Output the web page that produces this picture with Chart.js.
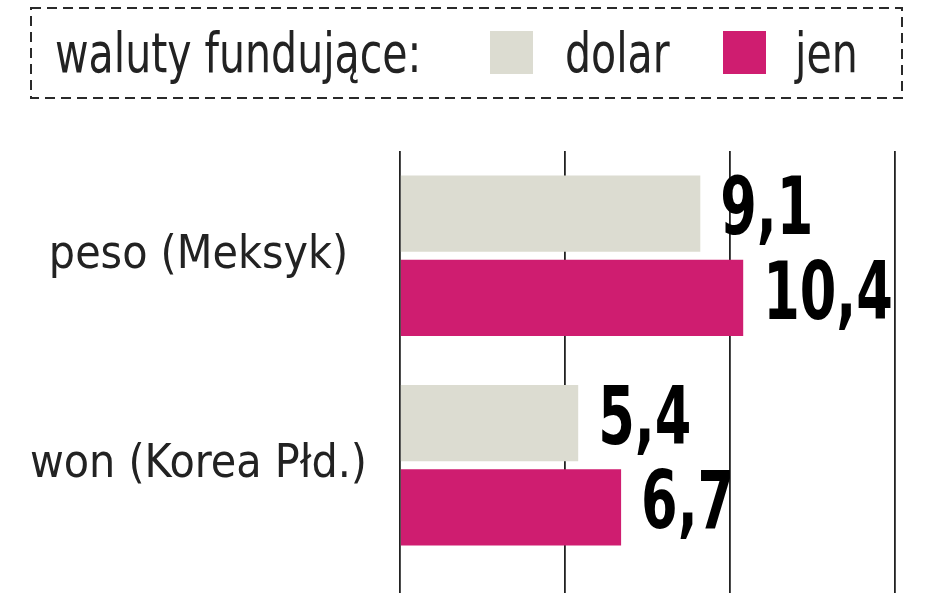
<!DOCTYPE html>
<html>
<head>
<meta charset="utf-8">
<script src="https://cdn.jsdelivr.net/npm/chart.js@4/dist/chart.umd.min.js"></script>
<style>
  html, body { margin: 0; padding: 0; background: #ffffff; }
  #wrap { position: relative; width: 948px; height: 593px; }
</style>
</head>
<body>
<div id="wrap"><canvas id="carry-trade"></canvas></div>
<script>
// Dane
var categories = ['peso (Meksyk)', 'won (Korea Płd.)'];
var seriesNames = ['dolar', 'jen'];
var dolarValues = [9.1, 5.4];
var jenValues = [10.4, 6.7];
var xTicks = [0, 5, 10, 15];
var legendTitle = 'waluty fundujące:';

var FONT = '"DejaVu Sans Condensed", "DejaVu Sans", sans-serif';
var GREY = '#dcdcd1';
var PINK = '#cf1d70';

// tekst ściśnięty w poziomie (brak wąskiego fontu)
function narrowText(ctx, txt, x, y, sx) {
    ctx.save();
    ctx.translate(x, y);
    ctx.scale(sx, 1);
    ctx.fillText(txt, 0, 0);
    ctx.restore();
}

// legenda w przerywanej ramce
var dashedLegend = {
    id: 'dashedLegend',
    afterDraw: function (chart) {
        var ctx = chart.ctx;
        ctx.save();
        ctx.strokeStyle = '#2a2a2a';
        ctx.lineWidth = 2;
        ctx.setLineDash([10, 6]);
        ctx.strokeRect(31, 8, 871, 90);
        ctx.setLineDash([]);

        ctx.fillStyle = '#222222';
        ctx.font = '56px ' + FONT;
        ctx.textBaseline = 'alphabetic';
        ctx.textAlign = 'left';
        narrowText(ctx, legendTitle, 55, 72, 0.815);

        var boxX = [490, 723];
        var textX = [565, 795];
        chart.data.datasets.forEach(function (ds, i) {
            ctx.fillStyle = ds.backgroundColor;
            ctx.fillRect(boxX[i], 31, 43, 43);
            ctx.fillStyle = '#222222';
            narrowText(ctx, ds.label, textX[i], 72, 0.815);
        });
        ctx.restore();
    }
};

// wartości przy słupkach
var valueLabels = {
    id: 'valueLabels',
    afterDatasetsDraw: function (chart) {
        var ctx = chart.ctx;
        ctx.save();
        ctx.fillStyle = '#000000';
        ctx.font = 'bold 80px ' + FONT;
        ctx.textAlign = 'left';
        ctx.textBaseline = 'middle';
        chart.data.datasets.forEach(function (ds, i) {
            chart.getDatasetMeta(i).data.forEach(function (bar, j) {
                var txt = ds.data[j].toFixed(1).replace('.', ',');
                narrowText(ctx, txt, bar.x + 20, bar.y, 0.73);
            });
        });
        ctx.restore();
    }
};

document.addEventListener('DOMContentLoaded', function () {
    var ctx = document.getElementById('carry-trade').getContext('2d');
    new Chart(ctx, {
        type: 'bar',
        data: {
            labels: categories,
            datasets: [
                { label: seriesNames[0], data: dolarValues, backgroundColor: GREY },
                { label: seriesNames[1], data: jenValues, backgroundColor: PINK }
            ]
        },
        options: {
            indexAxis: 'y',
            responsive: true,
            maintainAspectRatio: false,
            animation: false,
            layout: { padding: { top: 151, right: 53, bottom: 0, left: 0 } },
            datasets: {
                bar: { categoryPercentage: 0.804, barPercentage: 0.905 }
            },
            plugins: {
                legend: { display: false },
                tooltip: { enabled: false }
            },
            scales: {
                x: {
                    min: xTicks[0],
                    max: xTicks[xTicks.length - 1],
                    ticks: { display: false, stepSize: xTicks[1] - xTicks[0] },
                    grid: { color: '#222222', lineWidth: 1.8, drawTicks: true, tickLength: 23 },
                    border: { display: false }
                },
                y: {
                    grid: { display: false, drawTicks: false },
                    border: { display: false },
                    ticks: {
                        color: '#222222',
                        font: { family: FONT, size: 46 },
                        crossAlign: 'center',
                        padding: 33
                    },
                    afterFit: function (scale) {
                        scale.width = 400;
                        scale.paddingTop = 0;
                        scale.paddingBottom = 0;
                    }
                }
            }
        },
        plugins: [dashedLegend, valueLabels]
    });
});
</script>
</body>
</html>
